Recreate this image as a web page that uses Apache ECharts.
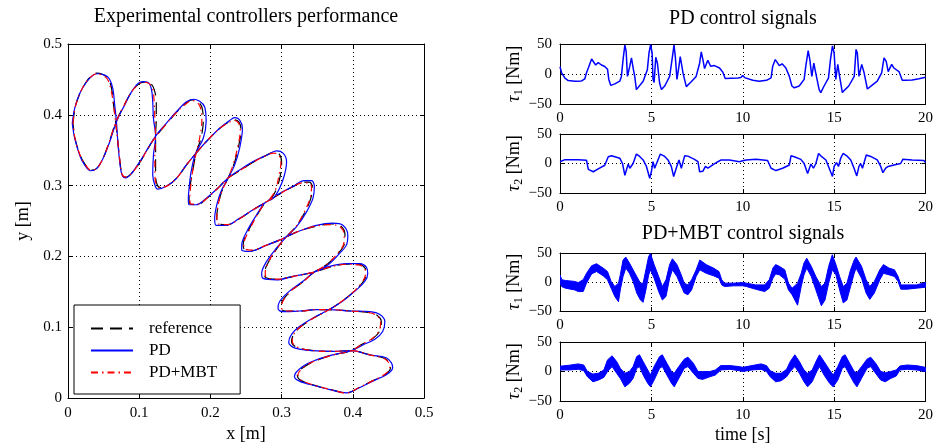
<!DOCTYPE html>
<html><head><meta charset="utf-8">
<script src="https://cdn.jsdelivr.net/npm/echarts@6/dist/echarts.min.js"></script>
<style>html,body{margin:0;padding:0;background:#fff}#c{width:936px;height:448px}</style>
</head><body><div id="c"></div>
<script>
// ---------- Trajectory (x [m], y [m]); each path: P = first zigzag (top-left -> bottom), Q = second zigzag ----------
const refP = [[0.007,0.388],[0.010,0.410],[0.017,0.431],[0.026,0.447],[0.034,0.456],[0.040,0.459],[0.049,0.457],[0.056,0.452],[0.061,0.438],[0.064,0.414],
 [0.067,0.389],[0.070,0.362],[0.073,0.334],[0.076,0.316],[0.081,0.312],[0.089,0.317],[0.101,0.333],[0.112,0.352],
 [0.123,0.369],[0.138,0.387],[0.152,0.403],[0.165,0.416],[0.174,0.421],[0.182,0.419],[0.188,0.411],[0.190,0.392],[0.187,0.368],
 [0.180,0.346],[0.175,0.320],[0.171,0.296],[0.170,0.281],[0.172,0.274],[0.181,0.273],[0.195,0.282],[0.213,0.299],
 [0.225,0.311],[0.241,0.321],[0.260,0.333],[0.277,0.342],[0.289,0.347],[0.297,0.344],[0.300,0.332],[0.298,0.313],[0.293,0.296],[0.286,0.283],
 [0.277,0.276],[0.266,0.259],[0.253,0.236],[0.246,0.217],[0.247,0.211],[0.257,0.208],[0.279,0.216],[0.297,0.223],
 [0.307,0.228],[0.325,0.236],[0.349,0.243],[0.371,0.246],[0.383,0.243],[0.389,0.231],[0.388,0.217],[0.380,0.205],[0.364,0.189],
 [0.346,0.178],[0.331,0.165],[0.313,0.151],[0.301,0.137],[0.299,0.127],[0.305,0.123],[0.326,0.123],[0.349,0.125],
 [0.367,0.125],[0.396,0.123],[0.422,0.121],[0.434,0.117],[0.440,0.108],[0.438,0.095],[0.428,0.084],[0.413,0.076],
 [0.398,0.067],[0.373,0.061],[0.351,0.054],[0.333,0.045],[0.322,0.033],[0.327,0.025],[0.350,0.017],[0.373,0.011],[0.390,0.007]];
const refQ = [[0.007,0.388],[0.010,0.366],[0.017,0.343],[0.024,0.330],[0.032,0.322],[0.040,0.324],[0.049,0.338],[0.058,0.362],
 [0.067,0.389],[0.079,0.414],[0.089,0.432],[0.099,0.443],[0.107,0.446],[0.115,0.445],[0.121,0.436],[0.124,0.418],[0.124,0.395],
 [0.123,0.369],[0.123,0.343],[0.123,0.316],[0.125,0.302],[0.130,0.297],[0.140,0.300],[0.153,0.311],[0.167,0.330],
 [0.180,0.346],[0.194,0.362],[0.212,0.380],[0.226,0.390],[0.234,0.393],[0.240,0.390],[0.243,0.379],[0.239,0.353],[0.233,0.330],
 [0.225,0.311],[0.216,0.292],[0.211,0.273],[0.209,0.255],[0.211,0.246],[0.224,0.245],[0.242,0.254],[0.260,0.266],
 [0.277,0.276],[0.297,0.288],[0.315,0.298],[0.330,0.305],[0.339,0.305],[0.343,0.298],[0.341,0.282],[0.333,0.263],[0.320,0.242],
 [0.307,0.228],[0.294,0.212],[0.282,0.193],[0.276,0.177],[0.278,0.170],[0.295,0.168],[0.317,0.172],
 [0.346,0.178],[0.368,0.185],[0.391,0.189],[0.409,0.189],[0.417,0.184],[0.419,0.176],[0.415,0.165],[0.402,0.151],[0.385,0.137],
 [0.367,0.125],[0.345,0.113],[0.327,0.101],[0.317,0.090],[0.314,0.080],[0.321,0.072],[0.345,0.067],[0.372,0.066],
 [0.398,0.067],[0.424,0.061],[0.445,0.056],[0.452,0.049],[0.453,0.043],[0.445,0.033],[0.427,0.024],[0.409,0.015],[0.390,0.007]];

const pdP = [[0.006,0.388],[0.0094,0.409],[0.0164,0.430],[0.0258,0.446],[0.035,0.456],[0.042,0.458],[0.0515,0.456],[0.058,0.451],[0.063,0.437],[0.0656,0.414],
 [0.068,0.390],[0.070,0.362],[0.0726,0.334],[0.076,0.315],[0.081,0.311],[0.089,0.317],[0.101,0.334],[0.1124,0.353],
 [0.123,0.370],[0.138,0.388],[0.152,0.404],[0.166,0.418],[0.176,0.422],[0.185,0.419],[0.192,0.411],[0.194,0.390],[0.190,0.367],
 [0.179,0.345],[0.173,0.320],[0.170,0.296],[0.169,0.280],[0.170,0.273],[0.180,0.273],[0.194,0.282],[0.213,0.299],
 [0.225,0.311],[0.241,0.322],[0.260,0.334],[0.279,0.343],[0.293,0.349],[0.302,0.346],[0.307,0.334],[0.304,0.315],[0.297,0.296],[0.288,0.282],
 [0.277,0.276],[0.265,0.259],[0.251,0.235],[0.244,0.216],[0.244,0.209],[0.255,0.207],[0.279,0.216],[0.297,0.223],
 [0.307,0.228],[0.325,0.236],[0.349,0.244],[0.372,0.247],[0.386,0.244],[0.393,0.230],[0.391,0.216],[0.382,0.205],[0.365,0.188],
 [0.346,0.178],[0.330,0.165],[0.311,0.151],[0.297,0.136],[0.295,0.126],[0.302,0.122],[0.325,0.123],[0.349,0.125],
 [0.367,0.125],[0.396,0.123],[0.424,0.122],[0.438,0.118],[0.445,0.108],[0.442,0.094],[0.431,0.083],[0.414,0.075],
 [0.398,0.067],[0.372,0.061],[0.349,0.054],[0.330,0.045],[0.318,0.031],[0.325,0.024],[0.349,0.017],[0.372,0.011],[0.391,0.0075]];
const pdQ = [[0.006,0.388],[0.0094,0.367],[0.0164,0.343],[0.0235,0.329],[0.0314,0.321],[0.040,0.324],[0.049,0.338],[0.0586,0.362],
 [0.068,0.390],[0.0796,0.414],[0.089,0.432],[0.098,0.444],[0.105,0.447],[0.112,0.446],[0.117,0.437],[0.119,0.418],[0.120,0.395],
 [0.123,0.370],[0.120,0.343],[0.119,0.315],[0.122,0.301],[0.126,0.295],[0.138,0.299],[0.152,0.310],[0.166,0.329],
 [0.179,0.345],[0.194,0.362],[0.213,0.381],[0.227,0.392],[0.234,0.396],[0.241,0.393],[0.245,0.381],[0.241,0.353],[0.234,0.329],
 [0.225,0.311],[0.215,0.292],[0.209,0.273],[0.206,0.254],[0.208,0.244],[0.222,0.244],[0.241,0.254],[0.260,0.266],
 [0.277,0.276],[0.297,0.289],[0.316,0.299],[0.332,0.307],[0.342,0.307],[0.346,0.299],[0.344,0.282],[0.335,0.263],[0.321,0.242],
 [0.307,0.228],[0.293,0.212],[0.279,0.193],[0.272,0.176],[0.274,0.169],[0.293,0.167],[0.316,0.172],
 [0.346,0.178],[0.3675,0.186],[0.391,0.190],[0.410,0.190],[0.419,0.185],[0.421,0.176],[0.417,0.165],[0.403,0.151],[0.386,0.137],
 [0.367,0.125],[0.344,0.113],[0.325,0.101],[0.314,0.090],[0.310,0.079],[0.318,0.071],[0.344,0.067],[0.372,0.066],
 [0.398,0.067],[0.424,0.061],[0.447,0.057],[0.454,0.050],[0.456,0.043],[0.447,0.033],[0.428,0.024],[0.410,0.015],[0.391,0.0075]];

const mbtP = [[0.007,0.388],[0.010,0.410],[0.017,0.431],[0.026,0.447],[0.034,0.455],[0.040,0.458],[0.048,0.456],[0.055,0.451],[0.060,0.437],[0.064,0.414],
 [0.067,0.389],[0.070,0.362],[0.073,0.334],[0.076,0.316],[0.081,0.312],[0.089,0.317],[0.101,0.333],[0.112,0.352],
 [0.123,0.369],[0.138,0.387],[0.152,0.403],[0.165,0.415],[0.174,0.420],[0.181,0.418],[0.186,0.410],[0.188,0.392],[0.185,0.368],
 [0.180,0.346],[0.175,0.320],[0.172,0.296],[0.171,0.281],[0.173,0.274],[0.182,0.274],[0.195,0.282],[0.213,0.299],
 [0.225,0.311],[0.241,0.321],[0.260,0.333],[0.277,0.342],[0.289,0.346],[0.296,0.343],[0.299,0.332],[0.296,0.313],[0.292,0.296],[0.285,0.283],
 [0.277,0.276],[0.266,0.259],[0.254,0.236],[0.247,0.217],[0.248,0.211],[0.258,0.209],[0.279,0.216],[0.297,0.223],
 [0.307,0.228],[0.325,0.236],[0.349,0.243],[0.370,0.245],[0.382,0.242],[0.388,0.231],[0.387,0.217],[0.379,0.205],[0.364,0.189],
 [0.346,0.178],[0.331,0.165],[0.313,0.151],[0.302,0.137],[0.300,0.127],[0.306,0.123],[0.326,0.123],[0.349,0.125],
 [0.367,0.125],[0.396,0.123],[0.421,0.121],[0.433,0.117],[0.439,0.108],[0.437,0.095],[0.427,0.084],[0.413,0.076],
 [0.398,0.067],[0.373,0.061],[0.351,0.054],[0.333,0.045],[0.323,0.033],[0.328,0.025],[0.350,0.017],[0.373,0.011],[0.390,0.007]];
const mbtQ = [[0.007,0.388],[0.010,0.366],[0.017,0.343],[0.024,0.330],[0.032,0.322],[0.040,0.324],[0.049,0.338],[0.058,0.362],
 [0.067,0.389],[0.079,0.414],[0.089,0.432],[0.099,0.443],[0.107,0.446],[0.114,0.444],[0.119,0.436],[0.121,0.418],[0.122,0.395],
 [0.123,0.369],[0.122,0.343],[0.122,0.316],[0.124,0.302],[0.129,0.297],[0.140,0.300],[0.153,0.311],[0.167,0.330],
 [0.180,0.346],[0.194,0.362],[0.212,0.380],[0.226,0.389],[0.233,0.392],[0.239,0.389],[0.242,0.379],[0.238,0.353],[0.232,0.330],
 [0.225,0.311],[0.216,0.292],[0.211,0.273],[0.209,0.255],[0.211,0.246],[0.224,0.245],[0.242,0.254],[0.260,0.266],
 [0.277,0.276],[0.297,0.288],[0.315,0.298],[0.329,0.304],[0.338,0.304],[0.342,0.298],[0.340,0.282],[0.332,0.263],[0.320,0.242],
 [0.307,0.228],[0.294,0.212],[0.282,0.193],[0.277,0.177],[0.279,0.170],[0.295,0.168],[0.317,0.172],
 [0.346,0.178],[0.368,0.185],[0.391,0.189],[0.408,0.188],[0.416,0.184],[0.418,0.176],[0.414,0.165],[0.402,0.151],[0.385,0.137],
 [0.367,0.125],[0.345,0.113],[0.327,0.101],[0.317,0.090],[0.315,0.080],[0.322,0.072],[0.345,0.067],[0.372,0.066],
 [0.398,0.067],[0.424,0.061],[0.444,0.056],[0.451,0.049],[0.452,0.043],[0.444,0.033],[0.427,0.024],[0.409,0.015],[0.390,0.007]];

// ---------- Control signals [time s, torque Nm] ----------
const pdTau1 = [[0,12],[0.09,2],[0.27,-7],[0.45,-11],[0.82,-12],[1.18,-11.5],[1.36,-8],[1.45,2],[1.55,10],[1.73,25],[1.82,24],[1.95,15],[2.09,19],[2.27,15],[2.45,12.5],[2.6,8],[2.67,-9],[2.78,-19],[3.0,-16.5],[3.27,-12],[3.36,-4],[3.45,24],[3.55,48],[3.62,38],[3.69,-4],[3.82,13],[3.91,27],[4.02,7],[4.09,-4],[4.18,-26],[4.27,-24],[4.55,-12],[4.78,7],[4.87,35],[4.96,49],[5.04,35],[5.09,-9],[5.15,-14],[5.24,28],[5.33,18],[5.45,-15],[5.55,-26],[5.73,-20],[6.0,-4],[6.13,24],[6.24,48],[6.31,29],[6.4,-9],[6.51,13],[6.58,29],[6.73,2],[6.91,-21],[7.18,-13],[7.45,-4],[7.64,18],[7.73,37],[7.82,24],[7.91,9],[8.09,23],[8.24,13],[8.3,16],[8.45,14],[8.73,10],[8.91,3],[9.04,-7.5],[9.36,-7],[9.73,-6.5],[9.9,-6],[10.0,-2.5],[10.1,-6],[10.2,-8],[10.55,-10.5],[10.9,-12],[11.3,-10.5],[11.55,-6.5],[11.64,13],[11.78,24],[11.87,23],[12.0,14],[12.15,17],[12.36,10],[12.55,-4],[12.69,-20],[12.82,-23],[13.09,-20],[13.36,-9],[13.45,13],[13.58,39],[13.67,24],[13.78,-4],[13.89,18],[13.96,7],[14.18,-26],[14.27,-31],[14.45,-20],[14.69,-7],[14.8,24],[14.91,47],[15.0,35],[15.09,-9],[15.2,16],[15.3,-4],[15.45,-31],[15.6,-26],[15.8,-20],[16.1,-4],[16.2,41],[16.27,35],[16.36,-4],[16.51,16],[16.64,2],[16.82,-25],[17.1,-18],[17.36,-12],[17.6,2],[17.73,27],[17.85,21],[17.96,4],[18.15,16],[18.27,10],[18.55,4],[18.73,-10.5],[18.9,-10.5],[19.27,-10],[19.64,-8],[20.0,-5.5]];
const pdTau2 = [[0,3],[0.1,6],[0.27,6.5],[1.0,6.5],[1.45,5.5],[1.55,-10],[1.82,-14],[2.09,-9],[2.45,-3],[2.64,11.5],[2.82,13],[3.27,9],[3.42,0],[3.55,-20],[3.64,-20],[3.73,-1],[3.82,-8],[4.0,0],[4.18,16],[4.36,12],[4.55,6],[4.73,-5],[4.91,-25],[5.0,-14],[5.09,3],[5.18,-8],[5.36,6],[5.49,16],[5.73,12],[5.91,6],[6.09,-5],[6.22,-22],[6.36,-8],[6.51,6],[6.64,-8],[6.82,13],[7.0,12.5],[7.36,7],[7.55,3],[7.64,-14],[7.82,-13],[7.96,-5],[8.09,-8],[8.36,-2.5],[8.64,3],[8.82,6],[9.27,6],[9.82,3],[10.0,4.5],[10.18,6],[10.73,7],[11.36,5],[11.55,-8],[11.82,-12],[12.18,-8],[12.55,-2.5],[12.64,13],[12.82,11.5],[13.18,7],[13.36,0],[13.55,-17],[13.64,-20],[13.73,-1],[13.87,-8],[14.0,0],[14.15,17],[14.27,13],[14.55,6],[14.73,-8],[14.91,-22],[15.0,-5],[15.13,1.5],[15.24,-5],[15.36,9],[15.49,17],[15.73,12],[15.91,6],[16.09,-8],[16.24,-21],[16.36,-5],[16.45,0],[16.55,-8],[16.76,14.5],[17.0,12],[17.36,6],[17.55,-5],[17.67,-15.5],[17.82,-8],[17.96,-5],[18.27,-2.5],[18.64,0],[18.76,7],[19.27,6],[19.91,5],[20.0,1.5]];
// PD+MBT signals: [time, upper envelope, lower envelope] of the fast-oscillating band
const mbtTau1 = [[0,12,-2],[0.1,4,-8],[0.3,2.6,-10.7],[0.8,1,-13.6],[1.0,-1,-16.5],[1.27,4,-16.5],[1.45,15,-2],[1.73,28,14],[2.0,31.5,18],[2.36,24,10.7],[2.6,18,3.8],[2.8,1,-10.7],[3.0,-7.8,-25],[3.2,-2,-34],[3.3,12.4,-13.6],[3.45,38,9.5],[3.6,43,24],[3.8,32.7,15],[4.0,21,1],[4.2,9.5,-19],[4.4,-2,-31],[4.55,-2,-35],[4.7,21,-13.6],[4.85,44,12],[4.95,49,21],[5.15,30,6.6],[5.4,9.5,-16.5],[5.6,-7.8,-31],[5.8,3.8,-25],[6.0,30,6.6],[6.15,40,21],[6.4,30,9.5],[6.6,15,-5],[6.8,-2,-19],[7.0,-5,-22],[7.2,3.8,-13.6],[7.45,21,9.5],[7.65,38,21],[8.0,30,15],[8.4,24,10.7],[8.7,18,6.6],[8.85,3.8,-5],[9.0,-2,-7.8],[9.5,-2,-6.6],[10.0,-1,-6.6],[10.2,-2,-7.8],[10.7,-5,-12.4],[11.2,-5,-16.5],[11.45,3.8,-10.7],[11.65,24,6.6],[11.8,30,14],[12.0,27,12.4],[12.3,21,5],[12.5,-2,-13.6],[12.7,-10.7,-22],[13.0,-2,-40],[13.2,15,-7.8],[13.35,32.7,12.4],[13.5,41,24],[13.75,27,9.5],[14.0,9.5,-13.6],[14.3,-7.8,-41],[14.5,-2,-31],[14.7,27,-2],[14.9,47,21],[15.1,30,12.4],[15.3,9.5,-13.6],[15.5,-7.8,-36],[15.7,-2,-31],[15.9,21,-7.8],[16.1,38,15],[16.2,43,24],[16.5,27,6.6],[16.75,3.8,-19],[16.95,-7.8,-30],[17.2,1,-19],[17.5,21,3.8],[17.7,30,15],[18.0,24,12.4],[18.3,21,9.5],[18.5,9.5,1],[18.65,-5,-12.4],[19.0,-5,-12.4],[19.5,-5,-10.7],[20.0,-1,-9]];
const mbtTau2 = [[0,9,2.6],[0.5,10.6,2.6],[1.0,12.9,3.7],[1.3,11,1.4],[1.5,0,-8.9],[1.8,-4.3,-17.4],[2.1,-3,-14.6],[2.4,2.6,-10],[2.6,19.7,0],[2.85,26.6,8.3],[3.1,16.9,-3],[3.3,5.4,-11.7],[3.55,-3,-26],[3.8,0,-20],[4.0,8.3,-11.7],[4.2,25.4,5.4],[4.35,28.3,8.3],[4.55,16.9,-6],[4.8,2.6,-20],[4.95,-6,-26],[5.15,8.3,-14.6],[5.45,25.4,5.4],[5.6,28.3,8.3],[5.85,14,-6],[6.1,0,-20],[6.25,-3,-26],[6.5,8.3,-11.7],[6.8,20.9,5.4],[7.0,24.3,8.3],[7.3,14,-3],[7.55,0,-11.7],[7.8,0,-13.4],[8.2,0,-8.9],[8.5,2.6,-6],[8.8,10,2.6],[9.3,10,3.7],[9.8,8.3,1.4],[10.0,7,0],[10.5,10,2.6],[11.0,12.9,3.7],[11.3,10,0],[11.5,1.4,-8.9],[11.8,-3,-17.4],[12.1,-3,-15.7],[12.4,3.7,-8.9],[12.6,16.9,0],[12.85,28.3,8.3],[13.1,16.9,-3],[13.35,2.6,-17.4],[13.55,-3,-26],[13.8,2.6,-17.4],[14.05,19.7,0],[14.2,28.3,8.3],[14.45,16.9,-6],[14.75,2.6,-20],[14.95,-6,-26],[15.2,8.3,-14.6],[15.45,25.4,5.4],[15.6,28.3,8.3],[15.85,14,-6],[16.1,0,-20],[16.25,-2,-26],[16.5,8.3,-11.7],[16.8,20.9,5.4],[17.0,24.3,8.3],[17.3,12.9,-4.3],[17.55,0,-14.6],[17.8,-2,-17.4],[18.1,0,-11.7],[18.4,2.6,-7.7],[18.6,9.4,2.6],[19.0,11,3.7],[19.5,10,2.6],[20.0,7,0]];

// tick settings
const xyTicks = {min:0, max:0.5, interval:0.1};
const timeTicks = {min:0, max:20, interval:5};
const tauTicks = {min:-50, max:50, interval:50};

// ---------- chart ----------
const FONT = '"Liberation Serif", "DejaVu Serif", serif';
const BLUE = '#0000ff', RED = '#ff0000', BLACK = '#000000';
const chart = echarts.init(document.getElementById('c'), null, {renderer:'canvas'});

const grids = [
  {left:68, top:44, width:356, height:356},
  {left:560, top:44, width:367, height:60},
  {left:560, top:134, width:367, height:59},
  {left:560, top:253, width:367, height:58},
  {left:560, top:342, width:367, height:59}
];
const fmtMinus = v => String(Math.round(v*1000)/1000).replace('-', '\u2212');

const xAxes = [], yAxes = [];
function addAxes(gi, xt, yt, opt) {
  const base = {type:'value', gridIndex:gi,
    axisLine:{show:true, onZero:false, lineStyle:{color:BLACK, width:1}},
    axisTick:{show:true, inside:true, length:4, lineStyle:{color:BLACK, width:1}},
    splitLine:{show:false}};
  const lbl = {show:true, color:BLACK, fontFamily:FONT, fontSize:15, formatter:fmtMinus};
  const grid = {show:true, lineStyle:{color:BLACK, width:1, type:[1,3]}};
  xAxes.push(Object.assign({}, base, xt, {position:'bottom', splitLine:grid,
    axisLabel:Object.assign({}, lbl, {margin:7}),
    name:opt.xName || '', nameLocation:'middle', nameGap:opt.xGap || 24,
    nameTextStyle:{color:BLACK, fontFamily:FONT, fontSize:18}}));
  xAxes.push(Object.assign({}, base, xt, {position:'top', axisLabel:{show:false}}));
  yAxes.push(Object.assign({}, base, yt, {position:'left', splitLine:grid,
    axisLabel:Object.assign({}, lbl, {margin:opt.yMargin || 6}),
    name:opt.yName || '', nameLocation:'middle', nameGap:opt.yGap || 30,
    nameTextStyle:Object.assign({color:BLACK, fontFamily:FONT, fontSize:18}, opt.yRich ? {rich:opt.yRich} : {})}));
  yAxes.push(Object.assign({}, base, yt, {position:'right', axisLabel:{show:false}}));
}
const tauRich = {
  i:{fontFamily:FONT, fontSize:19, fontStyle:'italic', color:BLACK},
  s:{fontFamily:FONT, fontSize:12, color:BLACK, verticalAlign:'bottom', padding:[9,0,0,0]},
  n:{fontFamily:FONT, fontSize:18, color:BLACK}
};
addAxes(0, xyTicks, xyTicks, {xName:'x [m]', xGap:25, yName:'y [m]', yGap:36, yMargin:6});
addAxes(1, timeTicks, tauTicks, {yName:'{i|\u03c4}{s|1}{n| [Nm]}', yGap:31, yRich:tauRich, yMargin:8});
addAxes(2, timeTicks, tauTicks, {yName:'{i|\u03c4}{s|2}{n| [Nm]}', yGap:31, yRich:tauRich, yMargin:8});
addAxes(3, timeTicks, tauTicks, {yName:'{i|\u03c4}{s|1}{n| [Nm]}', yGap:31, yRich:tauRich, yMargin:8});
addAxes(4, timeTicks, tauTicks, {xName:'time [s]', xGap:25, yName:'{i|\u03c4}{s|2}{n| [Nm]}', yGap:31, yRich:tauRich, yMargin:8});

const closed = (p, q) => p.concat(q.slice().reverse());
function trajSeries(name, data, color, type, w) {
  return {name, type:'line', xAxisIndex:0, yAxisIndex:0, data, symbol:'none', showSymbol:false,
    smooth:0.35, lineStyle:{color, width:w, type}, itemStyle:{color}, animation:false, z:3};
}
function signalSeries(name, idx, data) {
  return {name, type:'line', xAxisIndex:idx*2, yAxisIndex:idx*2, data, symbol:'none', showSymbol:false,
    lineStyle:{color:BLUE, width:1.5}, itemStyle:{color:BLUE}, animation:false};
}
function bandSeries(name, idx, data) {
  return {name, type:'custom', xAxisIndex:idx*2, yAxisIndex:idx*2, data, encode:{x:0, y:[1,2]},
    animation:false, clip:true,
    renderItem:(params, api) => {
      if (params.dataIndexInside !== 0) return null;
      const n = params.dataInsideLength, up = [], lo = [];
      for (let j = 0; j < n; j++) {
        up.push(api.coord([api.value(0, j), api.value(1, j)]));
        lo.push(api.coord([api.value(0, j), api.value(2, j)]));
      }
      return {type:'polygon', shape:{points:up.concat(lo.reverse())},
        style:{fill:BLUE, stroke:BLUE, lineWidth:1}};
    }};
}

const option = {
  backgroundColor:'#ffffff',
  animation:false,
  grid:grids,
  xAxis:xAxes,
  yAxis:yAxes,
  legend:{data:['reference','PD','PD+MBT'], orient:'vertical', left:74, top:305,
    padding:[15, 23, 13, 16], itemGap:5, itemWidth:42, itemHeight:16,
    borderColor:BLACK, borderWidth:1, borderRadius:0, backgroundColor:'#ffffff',
    selectedMode:false, itemStyle:{opacity:0},
    textStyle:{fontFamily:FONT, fontSize:17, color:BLACK, padding:[0,0,0,11]}},
  graphic:[
    {type:'text', x:246, y:17, style:{text:'Experimental controllers performance', fontFamily:FONT, fontSize:20, fill:BLACK, align:'center', verticalAlign:'middle'}},
    {type:'text', x:743, y:19, style:{text:'PD control signals', fontFamily:FONT, fontSize:20, fill:BLACK, align:'center', verticalAlign:'middle'}},
    {type:'text', x:743, y:234, style:{text:'PD+MBT control signals', fontFamily:FONT, fontSize:20, fill:BLACK, align:'center', verticalAlign:'middle'}}
  ],
  series:[
    trajSeries('reference', closed(refP, refQ), BLACK, [12,7], 1.2),
    trajSeries('PD', closed(pdP, pdQ), BLUE, 'solid', 1.2),
    trajSeries('PD+MBT', closed(mbtP, mbtQ), RED, [7,4,1.5,4], 1.2),
    signalSeries('PD tau1', 1, pdTau1),
    signalSeries('PD tau2', 2, pdTau2),
    bandSeries('PD+MBT tau1', 3, mbtTau1),
    bandSeries('PD+MBT tau2', 4, mbtTau2)
  ]
};
chart.setOption(option);
</script></body></html>
